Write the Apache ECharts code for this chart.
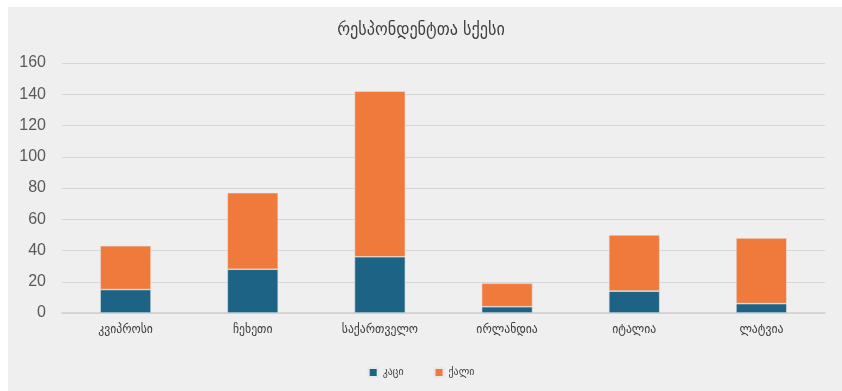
<!DOCTYPE html>
<html>
<head>
<meta charset="utf-8">
<script src="https://cdn.jsdelivr.net/npm/echarts@6/dist/echarts.min.js"></script>
<style>
html,body{margin:0;padding:0;background:#ffffff;}
#chart{width:842px;height:391px;}
</style>
</head>
<body>
<div id="chart"></div>
<script>
// Respondents by country, split by sex
const countries = ['კვიპროსი', 'ჩეხეთი', 'საქართველო', 'ირლანდია', 'იტალია', 'ლატვია'];
const men = [15, 28, 36, 4, 14, 6];
const women = [28, 49, 106, 15, 36, 42];
const seriesNames = ['კაცი', 'ქალი'];
const yTicks = [0, 20, 40, 60, 80, 100, 120, 140, 160];

const geoFont = '"DejaVu Sans Condensed", "DejaVu Sans", sans-serif';

const chart = echarts.init(document.getElementById('chart'), null, {renderer: 'canvas'});
chart.setOption({
  backgroundColor: '#ffffff',
  animation: false,
  graphic: [{
    type: 'rect',
    z: -10,
    silent: true,
    shape: {x: 8, y: 7, width: 842, height: 391},
    style: {fill: '#efefef'}
  }],
  title: {
    text: 'რესპონდენტთა სქესი',
    left: 'center',
    top: 16,
    textStyle: {fontFamily: geoFont, fontSize: 18, fontWeight: 'normal', color: '#404040'}
  },
  legend: {
    data: seriesNames,
    bottom: 8,
    left: 'center',
    itemWidth: 9,
    itemHeight: 9,
    itemGap: 30,
    icon: 'rect',
    textStyle: {fontFamily: geoFont, fontSize: 11, color: '#404040'}
  },
  grid: {left: 62, right: 17, top: 63, bottom: 78},
  xAxis: {
    type: 'category',
    data: countries,
    axisLine: {lineStyle: {color: '#d0d0d0', width: 1.5}},
    axisTick: {show: false},
    axisLabel: {fontFamily: geoFont, fontSize: 13, color: '#404040', margin: 10}
  },
  yAxis: {
    type: 'value',
    min: yTicks[0],
    max: yTicks[yTicks.length - 1],
    interval: 20,
    axisLine: {show: false},
    axisTick: {show: false},
    splitLine: {lineStyle: {color: '#d6d6d6', width: 1}},
    axisLabel: {fontFamily: 'Arial, "Liberation Sans", sans-serif', fontSize: 16, color: '#595959', margin: 16}
  },
  series: [
    {
      name: seriesNames[0],
      type: 'bar',
      stack: 'total',
      data: men,
      barWidth: '40%',
      itemStyle: {color: '#1d6385', borderColor: '#e8e8e8', borderWidth: 0.6}
    },
    {
      name: seriesNames[1],
      type: 'bar',
      stack: 'total',
      data: women,
      barWidth: '40%',
      itemStyle: {color: '#ef7a3c', borderColor: '#e8e8e8', borderWidth: 0.6}
    }
  ]
});
</script>
</body>
</html>
